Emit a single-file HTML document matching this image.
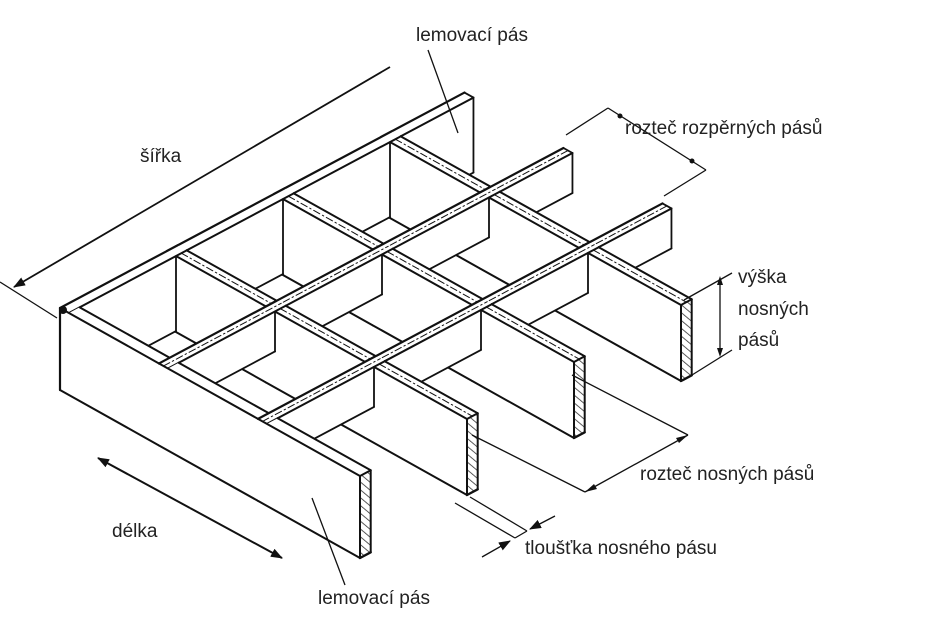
<!DOCTYPE html>
<html><head><meta charset="utf-8">
<style>
html,body{margin:0;padding:0;background:#fff;}
svg{display:block;}
text{font-family:"Liberation Sans","DejaVu Sans",sans-serif;font-size:19px;fill:#222;}
</style></head>
<body>
<svg id="s" width="925" height="639" viewBox="0 0 925 639" xmlns="http://www.w3.org/2000/svg">
<defs>
<pattern id="h" width="6" height="6" patternUnits="userSpaceOnUse" patternTransform="rotate(-50)">
<rect width="6" height="6" fill="#fff"/><line x1="0" y1="0" x2="0" y2="6" stroke="#333" stroke-width="1.6"/>
</pattern>
<marker id="a" markerWidth="12" markerHeight="9" refX="11" refY="4.5" orient="auto" markerUnits="userSpaceOnUse">
<path d="M0,0 L12,4.5 L0,9 Z" fill="#111"/></marker>
</defs>
<g id="g" stroke-linecap="round" stroke-linejoin="round"></g>
<g stroke="#111" fill="none" stroke-width="1.3">
<line x1="0" y1="282" x2="57" y2="318"/>
<line x1="390" y1="67" x2="14" y2="287" stroke-width="1.8" marker-end="url(#a)"/>
<line x1="428" y1="50" x2="458" y2="133"/>
<line x1="566" y1="135" x2="608" y2="108"/>
<line x1="664" y1="196" x2="706" y2="170"/>
<line x1="608" y1="108" x2="706" y2="170"/>
<line x1="684" y1="300" x2="732" y2="273"/>
<line x1="684" y1="380" x2="732" y2="350"/>
<line x1="720" y1="283" x2="720" y2="350"/>
<line x1="572" y1="375" x2="688" y2="435"/>
<line x1="472" y1="435" x2="585" y2="492"/>
<line x1="688" y1="435" x2="585" y2="492"/>
<line x1="455" y1="503" x2="515" y2="538"/>
<line x1="470" y1="497" x2="527" y2="531"/>
<line x1="515" y1="538" x2="527" y2="531"/>
<line x1="555" y1="516" x2="530" y2="529" marker-end="url(#a)"/>
<line x1="482" y1="557" x2="510" y2="541" marker-end="url(#a)"/>
<line x1="190" y1="508" x2="98" y2="458" stroke-width="2" marker-end="url(#a)"/>
<line x1="190" y1="508" x2="282" y2="558" stroke-width="2" marker-end="url(#a)"/>
<line x1="312" y1="498" x2="345" y2="585"/>
</g>
<g fill="#111">
<circle cx="620" cy="116" r="2.5"/><circle cx="692" cy="161" r="2.5"/>
<path d="M720,276 l-3,9 h6 Z"/><path d="M720,357 l-3,-9 h6 Z"/>
<path d="M688,435 l-12,3 l3,5 Z"/><path d="M585,492 l12,-3 l-3,-5 Z"/>
</g>
<text x="416" y="41">lemovací pás</text>
<text x="140" y="162">šířka</text>
<text x="625" y="134">rozteč rozpěrných pásů</text>
<text x="738" y="283">výška</text>
<text x="738" y="315">nosných</text>
<text x="738" y="346">pásů</text>
<text x="640" y="480">rozteč nosných pásů</text>
<text x="525" y="554">tloušťka nosného pásu</text>
<text x="112" y="537">délka</text>
<text x="318" y="604">lemovací pás</text>
</svg>
<script>
(function(){
var g=document.getElementById('g'),NS='http://www.w3.org/2000/svg';
function P(t,k,z){return [60+300*t+107*k,308+168*t-57*k+z];}
function poly(pts,fill){var e=document.createElementNS(NS,'polygon');e.setAttribute('points',pts.map(function(p){return p[0].toFixed(1)+','+p[1].toFixed(1)}).join(' '));e.setAttribute('fill',fill||'#fff');e.setAttribute('stroke','none');g.appendChild(e);return e;}
function ln(a,b,w,dash){var e=document.createElementNS(NS,'line');e.setAttribute('x1',a[0]);e.setAttribute('y1',a[1]);e.setAttribute('x2',b[0]);e.setAttribute('y2',b[1]);e.setAttribute('stroke','#111');e.setAttribute('stroke-width',w||2);if(dash){e.setAttribute('stroke-dasharray',dash);}g.appendChild(e);}
var cs=[0,0.33,0.66],hc=[75,40,40],dt=0.03,dk=0.1,K=3.78;
function H(k){return k==0?82:76;}
for(var k=3;k>=0;k--){
 for(var i=0;i<3;i++){
  var c=cs[i],h=hc[i];
  var ka=k+dk,kb=(k==3)?K:k+1,isEnd=(k==3);
  var f=c+dt;
  poly([P(f,ka,0),P(f,kb,0),P(f,kb,h),P(f,ka,h)]);
  var ktop0=k,ktop1=isEnd?K:kb+dk;
  poly([P(c,ktop0,0),P(c,ktop1,0),P(f,ktop1,0),P(f,ktop0,0)]);
  ln(P(f,ka,h),P(f,kb,h),1.8);
  ln(P(f,ktop0,0),P(f,ktop1,0),2);
  ln(P(c,ktop0,0),P(c,ktop1,0),2.2);
  if(i>0){ln(P(c+dt/2,ktop0,0),P(c+dt/2,ktop1,0),1,'7 3 1.5 3');}
  if(isEnd){ln(P(f,K,0),P(f,K,h),1.8);ln(P(c,K,0),P(f,K,0),1.8);}
  else{ln(P(f,kb,0),P(f,kb,h),1.8);}
  var a0=(i==0)?0:c,a=f,b=(i<2)?cs[i+1]:1,HH=H(k);
  poly([P(a0,k,0),P(b,k,0),P(b,k,HH),P(a0,k,HH)]);
  poly([P(a,k,0),P(b,k,0),P(b,k+dk,0),P(a,k+dk,0)]);
  ln(P(a0,k,0),P(b,k,0),2);
  ln(P(a,k+dk,0),P(b,k+dk,0),2);
  ln(P(a0,k,HH),P(b,k,HH),2);
  if(k>0){ln(P(a,k+dk/2,0),P(b,k+dk/2,0),1,'7 3 1.5 3');}
  if(b==1){
   poly([P(1,k,0),P(1,k+dk,0),P(1,k+dk,HH),P(1,k,HH)],'url(#h)');
   ln(P(1,k,0),P(1,k+dk,0),2);ln(P(1,k+dk,0),P(1,k+dk,HH),2);ln(P(1,k+dk,HH),P(1,k,HH),2.4);ln(P(1,k,0),P(1,k,HH),2);
  }
 }
}
ln(P(0,0,0),P(0,0,H(0)),2.2);
var e=document.createElementNS(NS,'circle');var o=P(0,0,2);e.setAttribute('cx',o[0]+3);e.setAttribute('cy',o[1]);e.setAttribute('r',4);e.setAttribute('fill','#111');g.appendChild(e);
})();
</script>
</body></html>
